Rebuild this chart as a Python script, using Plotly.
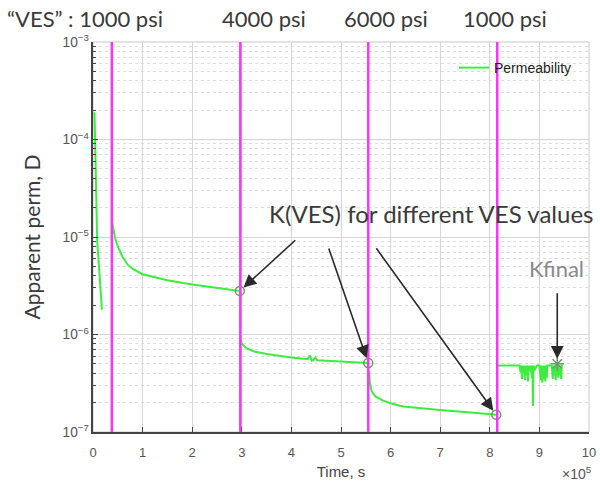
import numpy as np
import plotly.graph_objects as go

# Permeability history, time in seconds, permeability in darcy
t_stage1 = [3000, 4000, 5000, 6000, 7500, 8500, 10000, 12000, 14000, 16000, 18000]
k_stage1 = [1.9e-4, 1.0e-4, 5.0e-5, 2.5e-5, 1.2e-5, 9.0e-6, 7.0e-6, 5.0e-6, 4.0e-6, 2.8e-6, 1.8e-6]

t_jump = [38000, 38500]
k_jump = [2.8e-5, 1.5e-5]

t_stage2 = [39000, 42000, 45000, 50000, 55000, 60000, 70000, 80000, 100000, 125000,
            150000, 200000, 250000, 296000]
k_stage2 = [1.4e-5, 1.15e-5, 9.5e-6, 8.0e-6, 7.0e-6, 6.2e-6, 5.2e-6, 4.7e-6, 4.15e-6, 3.85e-6,
            3.6e-6, 3.25e-6, 3.0e-6, 2.8e-6]

t_stage3 = [298000, 300000, 310000, 325000, 350000, 375000, 400000, 425000, 433000, 437000,
            441000, 445000, 448000, 452000, 475000, 500000, 525000, 555000]
k_stage3 = [8.7e-7, 8.0e-7, 7.2e-7, 6.7e-7, 6.3e-7, 6.0e-7, 5.8e-7, 5.65e-7, 5.6e-7, 6.1e-7,
            5.4e-7, 5.5e-7, 5.8e-7, 5.45e-7, 5.4e-7, 5.3e-7, 5.2e-7, 5.1e-7]

t_stage4 = [557000, 558000, 562000, 570000, 585000, 600000, 625000, 650000, 700000, 750000,
            800000, 813000]
k_stage4 = [4.2e-7, 3.2e-7, 2.6e-7, 2.3e-7, 2.1e-7, 1.97e-7, 1.83e-7, 1.77e-7, 1.68e-7, 1.6e-7,
            1.53e-7, 1.5e-7]

t_stage5 = [816000, 830000, 845000, 860000, 862000, 863000, 865000, 866000, 868000, 869000,
            871000, 872000, 874000, 875000, 877000, 878000, 880000, 882000, 885000, 886000,
            887000, 888000, 890000, 895000, 900000, 903000, 904000, 906000, 907000, 909000,
            910000, 912000, 913000, 915000, 916000, 920000, 925000, 927000, 928000, 930000,
            931000, 933000, 934000, 936000, 938000, 939000, 941000, 942000, 944000, 945000,
            947000]
k_stage5 = [4.8e-7, 4.8e-7, 4.8e-7, 4.8e-7, 4.1e-7, 4.8e-7, 3.5e-7, 4.8e-7, 4.0e-7, 4.8e-7,
            3.4e-7, 4.8e-7, 3.8e-7, 4.8e-7, 3.3e-7, 4.8e-7, 4.2e-7, 4.8e-7, 3.6e-7, 4.8e-7,
            1.85e-7, 4.8e-7, 4.3e-7, 4.8e-7, 4.8e-7, 3.4e-7, 4.8e-7, 3.2e-7, 4.8e-7, 3.5e-7,
            4.8e-7, 3.3e-7, 4.8e-7, 3.6e-7, 4.8e-7, 4.8e-7, 4.8e-7, 3.5e-7, 4.8e-7, 3.8e-7,
            4.8e-7, 3.4e-7, 4.8e-7, 4.8e-7, 3.6e-7, 4.8e-7, 3.8e-7, 4.8e-7, 3.5e-7, 4.8e-7,
            4.8e-7]

# Picked K(VES) values at the end of each stage, and the final value
t_kves = [296000, 555000, 813000]
k_kves = [2.8e-6, 5.1e-7, 1.5e-7]
t_kfinal = [936000]
k_kfinal = [5.0e-7]

# Times at which the vertical effective stress was changed, and its labels
t_steps = [38000, 297000, 555000, 815000]
step_labels = ["\u201cVES\u201d : 1000 psi", "4000 psi", "6000 psi", "1000 psi"]
step_label_x = [85, 264, 386, 505]

x_tick_vals = [i * 100000 for i in range(11)]
x_tick_text = [str(i) for i in range(11)]

GREEN = "#3ded3d"
MAGENTA = "#ff33ff"
TEXT = "#3a3a3a"

# plot area in pixels
L, R, T, B = 93, 589, 42, 432
PW, PH = R - L, B - T


def px_x(p):
    return (p - L) / PW


def px_y(p):
    return 1 - (p - T) / PH


fig = go.Figure()

for tt, kk in [(t_stage1, k_stage1), (t_stage2, k_stage2), (t_stage3, k_stage3),
               (t_stage4, k_stage4), (t_stage5, k_stage5)]:
    fig.add_trace(go.Scatter(x=tt, y=kk, mode="lines", line=dict(color=GREEN, width=2),
                             showlegend=False, hoverinfo="skip"))

fig.add_trace(go.Scatter(x=t_jump, y=k_jump, mode="lines", line=dict(color="#707070", width=1.5),
                         showlegend=False))

# legend entry
fig.add_trace(go.Scatter(x=[None], y=[None], mode="lines", name="Permeability",
                         line=dict(color=GREEN, width=2)))

fig.add_trace(go.Scatter(x=t_kves, y=k_kves, mode="markers", showlegend=False,
                         marker=dict(symbol="circle-open", size=9, color="#6a9a6a",
                                     line=dict(width=1.5))))
fig.add_trace(go.Scatter(x=t_kfinal, y=k_kfinal, mode="markers", showlegend=False,
                         marker=dict(symbol="asterisk-open", size=11, color="#6a9a6a",
                                     line=dict(width=1.5))))

for ts in t_steps:
    fig.add_shape(type="line", xref="x", yref="paper", x0=ts, x1=ts, y0=0, y1=1,
                  line=dict(color=MAGENTA, width=2.5), layer="above")

# light frame on the top and right
fig.add_shape(type="rect", xref="paper", yref="paper", x0=0, x1=1, y0=0, y1=1,
              line=dict(color="#c8c8c8", width=1), layer="below")

for lab, px in zip(step_labels, step_label_x):
    fig.add_annotation(text=lab, xref="paper", yref="paper", x=px_x(px), y=px_y(19),
                       xanchor="center", yanchor="middle", showarrow=False,
                       font=dict(family="Lato", size=22, color=TEXT))

fig.add_annotation(text="K(VES) for different VES values", xref="paper", yref="paper",
                   x=px_x(431), y=px_y(213), xanchor="center", yanchor="middle",
                   showarrow=False, font=dict(family="Lato", size=24, color=TEXT))
fig.add_annotation(text="Kfinal", xref="paper", yref="paper",
                   x=px_x(556), y=px_y(268), xanchor="center", yanchor="middle",
                   showarrow=False, font=dict(family="Lato", size=22, color="#8a8a8a"))

arrow_tails = [(57, -52), (-40, -116), (-121, -168)]
for tt, kk, (ax, ay) in zip(t_kves, k_kves, arrow_tails):
    fig.add_annotation(x=tt, y=np.log10(kk), xref="x", yref="y", ax=ax, ay=ay,
                       showarrow=True, arrowhead=2, arrowsize=1.6, arrowwidth=1.6,
                       arrowcolor="#2a2a2a", standoff=5, text="")
fig.add_annotation(x=t_kfinal[0], y=np.log10(k_kfinal[0]), xref="x", yref="y", ax=0, ay=-72,
                   showarrow=True, arrowhead=2, arrowsize=1.6, arrowwidth=1.6,
                   arrowcolor="#2a2a2a", standoff=5, text="")

fig.add_annotation(text="\u00d710<sup>5</sup>", xref="paper", yref="paper",
                   x=px_x(577), y=px_y(473), xanchor="center", yanchor="middle",
                   showarrow=False,
                   font=dict(family="Liberation Sans", size=14, color="#555555"))

fig.update_layout(
    width=600, height=484,
    margin=dict(l=L, r=600 - R, t=T, b=484 - B, autoexpand=False),
    paper_bgcolor="white", plot_bgcolor="white",
    font=dict(family="Liberation Sans", color="#555555"),
    legend=dict(x=px_x(454), y=px_y(52), xanchor="left", yanchor="top",
                bgcolor="rgba(0,0,0,0)", font=dict(size=14, color="#222222"),
                itemwidth=30, tracegroupgap=0),
)

fig.update_xaxes(
    range=[0, 1000000], tickvals=x_tick_vals, ticktext=x_tick_text,
    ticks="inside", ticklen=5, tickcolor="#444444",
    showline=True, linecolor="#444444", linewidth=2,
    showgrid=True, gridcolor="#d6d6d6", gridwidth=1, zeroline=False,
    tickfont=dict(size=13, color="#555555"), ticklabelstandoff=7, automargin=False,
    title=dict(text="Time, s", font=dict(size=15, color="#444444"), standoff=8),
)

fig.update_yaxes(
    type="log", range=[-7, -3], dtick=1, exponentformat="power",
    ticks="inside", ticklen=5, tickcolor="#444444",
    showline=True, linecolor="#444444", linewidth=2,
    showgrid=True, gridcolor="#d6d6d6", gridwidth=1, zeroline=False,
    tickfont=dict(size=11, color="#555555"), automargin=False,
    minor=dict(ticks="inside", ticklen=3, tickcolor="#444444", showgrid=True,
               gridcolor="#dedede", griddash="dot"),
    title=dict(text="Apparent perm, D", font=dict(family="Lato", size=21, color=TEXT),
               standoff=16),
)

fig.write_html("out.html")
